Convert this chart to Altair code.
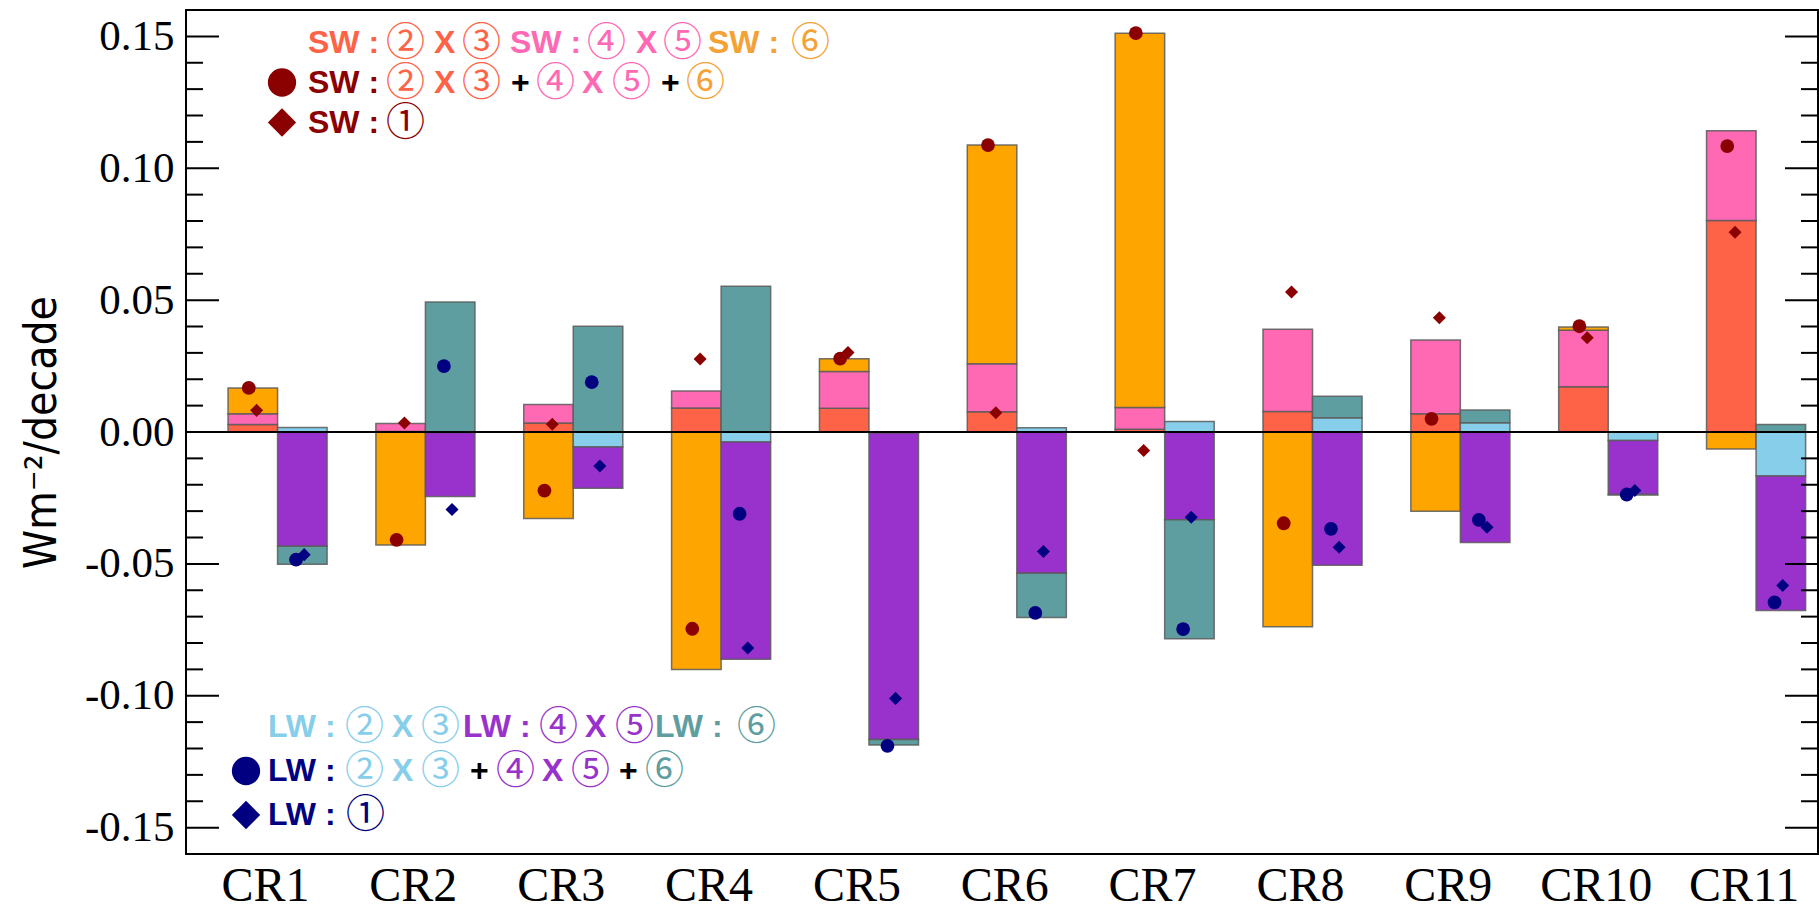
import altair as alt
import pandas as pd

# ---------------- data ----------------
regions = ["CR1", "CR2", "CR3", "CR4", "CR5", "CR6", "CR7", "CR8", "CR9", "CR10", "CR11"]

# SW components: (2)x(3), (4)x(5), (6)
sw_c23 = [0.0028, 0.0002, 0.0034, 0.0091, 0.0090, 0.0077, 0.0010, 0.0078, 0.0069, 0.0172, 0.0802]
sw_c45 = [0.0041, 0.0030, 0.0070, 0.0064, 0.0139, 0.0182, 0.0083, 0.0312, 0.0280, 0.0214, 0.0340]
sw_c6 = [0.0098, -0.0428, -0.0328, -0.0900, 0.0049, 0.0829, 0.1419, -0.0738, -0.0300, 0.0012, -0.0064]
sw_sum = [0.0167, -0.0409, -0.0222, -0.0746, 0.0278, 0.1088, 0.1512, -0.0346, 0.0050, 0.0401, 0.1084]
sw_one = [0.0082, 0.0034, 0.0029, 0.0277, 0.0301, 0.0073, -0.0070, 0.0531, 0.0433, 0.0357, 0.0757]

# LW components: (2)x(3), (4)x(5), (6)
lw_c23 = [0.0017, -0.0002, -0.0057, -0.0038, -0.0004, 0.0016, 0.0040, 0.0054, 0.0035, -0.0032, -0.0167]
lw_c45 = [-0.0433, -0.0243, -0.0156, -0.0824, -0.1162, -0.0536, -0.0333, -0.0505, -0.0419, -0.0205, -0.0510]
lw_c6 = [-0.0068, 0.0493, 0.0401, 0.0553, -0.0021, -0.0167, -0.0451, 0.0082, 0.0048, -0.0002, 0.0028]
lw_sum = [-0.0484, 0.0250, 0.0189, -0.0310, -0.1190, -0.0686, -0.0747, -0.0367, -0.0333, -0.0237, -0.0646]
lw_one = [-0.0465, -0.0294, -0.0129, -0.0819, -0.1010, -0.0453, -0.0323, -0.0437, -0.0361, -0.0222, -0.0582]

y_major = [-0.15, -0.10, -0.05, 0.0, 0.05, 0.10, 0.15]

# ---------------- colours ----------------
C_SW23, C_SW45, C_SW6 = "#FF6347", "#FF69B4", "#FFA500"
C_LW23, C_LW45, C_LW6 = "#87CEEB", "#9932CC", "#5F9EA0"
C_SWM, C_LWM = "#8B0000", "#000080"
C_SW6_TXT = "#F4A236"

# ---------------- layout ----------------
W, H = 1632, 844
YMIN, YMAX = -0.16, 0.16
STEP = 147.85
XMIN = 1 - 79 / STEP
XMAX = XMIN + W / STEP

def px_x(px):
    return XMIN + px / STEP

def px_y(py):
    return YMAX - py * (YMAX - YMIN) / H

# ---------------- stacked bars ----------------
rows = []
for side, comps, x0off, x1off in (
    ("SW", [("SW23", sw_c23), ("SW45", sw_c45), ("SW6", sw_c6)], -0.25, 0.085),
    ("LW", [("LW23", lw_c23), ("LW45", lw_c45), ("LW6", lw_c6)], 0.085, 0.42),
):
    for i, reg in enumerate(regions):
        pos, neg = 0.0, 0.0
        for name, vals in comps:
            v = vals[i]
            if v >= 0:
                y0, y1 = pos, pos + v
                pos += v
            else:
                y0, y1 = neg, neg + v
                neg += v
            rows.append(dict(region=reg, comp=name, x0=i + 1 + x0off, x1=i + 1 + x1off, y0=y0, y1=y1))
bars = pd.DataFrame(rows)

marks = []
for i, reg in enumerate(regions):
    marks.append(dict(x=i + 1 - 0.11, y=sw_sum[i], shape="circle", col=C_SWM, size=190))
    marks.append(dict(x=i + 1 - 0.057, y=sw_one[i], shape="diamond", col=C_SWM, size=170))
    marks.append(dict(x=i + 1 + 0.21, y=lw_sum[i], shape="circle", col=C_LWM, size=190))
    marks.append(dict(x=i + 1 + 0.265, y=lw_one[i], shape="diamond", col=C_LWM, size=170))
marks = pd.DataFrame(marks)

X_AX = alt.Axis(values=list(range(1, 12)), labelExpr="'CR' + datum.value", ticks=False, domain=False,
                grid=False, labelFont="Liberation Serif", labelFontSize=48, labelColor="black",
                labelPadding=8, title=None, labelOverlap=False)
Y_AX = alt.Axis(values=y_major, labelExpr="(datum.value < 0 ? '-' : '') + format(abs(datum.value), '.2f')",
                ticks=False, domain=False, grid=False, labelFont="Liberation Serif", labelFontSize=43,
                labelColor="black", labelPadding=12, title="Wm⁻²/decade", labelOverlap=False,
                titleFont="DejaVu Sans Condensed, Liberation Sans Narrow, Roboto Condensed, Liberation Sans",
                titleFontSize=44, titleFontWeight="normal", titleColor="black", titlePadding=20)
XS = alt.Scale(domain=[XMIN, XMAX], nice=False, zero=False)
YS = alt.Scale(domain=[YMIN, YMAX], nice=False, zero=False)

def X(f):
    return alt.X(f, scale=XS, axis=X_AX)

def Y(f):
    return alt.Y(f, scale=YS, axis=Y_AX)

comp_dom = ["SW23", "SW45", "SW6", "LW23", "LW45", "LW6"]
comp_rng = [C_SW23, C_SW45, C_SW6, C_LW23, C_LW45, C_LW6]

bar_layer = alt.Chart(bars).mark_rect(stroke="#5a5a5a", strokeWidth=1.5, strokeOpacity=0.85).encode(
    x=X("x0:Q"), x2="x1:Q", y=Y("y0:Q"), y2="y1:Q",
    color=alt.Color("comp:N", scale=alt.Scale(domain=comp_dom, range=comp_rng), legend=None),
)

zero_layer = alt.Chart(pd.DataFrame({"z": [0.0]})).mark_rule(color="black", strokeWidth=2).encode(
    y=Y("z:Q")
)

marker_layer = alt.Chart(marks).mark_point(filled=True, opacity=1, strokeWidth=0).encode(
    x=X("x:Q"), y=Y("y:Q"),
    shape=alt.Shape("shape:N", scale=None),
    color=alt.Color("col:N", scale=None),
    size=alt.Size("size:Q", scale=None),
)

# ---------------- inside ticks (left and right) ----------------
minor = [round(k * 0.01, 2) for k in range(-15, 16) if k % 5 != 0]
tick_layers = []
for vals, ln in ((y_major, 33), (minor, 17)):
    td = pd.DataFrame({"t": vals})
    tick_layers.append(alt.Chart(td).mark_rule(color="black", strokeWidth=2).encode(
        y=Y("t:Q"), x=alt.value(0), x2=alt.value(ln)))
    tick_layers.append(alt.Chart(td).mark_rule(color="black", strokeWidth=2).encode(
        y=Y("t:Q"), x=alt.value(W - ln), x2=alt.value(W)))

# ---------------- legend text ----------------
SW_ROWS = [32.5, 72.5, 112.5]
LW_ROWS = [716.7, 761.0, 805.0]
words = [
    ("SW :", 122, SW_ROWS[0], C_SW23), ("X", 248, SW_ROWS[0], C_SW23),
    ("SW :", 324, SW_ROWS[0], C_SW45), ("X", 450, SW_ROWS[0], C_SW45),
    ("SW :", 522, SW_ROWS[0], C_SW6_TXT),
    ("SW :", 122, SW_ROWS[1], C_SWM), ("X", 248, SW_ROWS[1], C_SW23), ("+", 325, SW_ROWS[1], "black"),
    ("X", 396, SW_ROWS[1], C_SW45), ("+", 475, SW_ROWS[1], "black"),
    ("SW :", 122, SW_ROWS[2], C_SWM),
    ("LW :", 82, LW_ROWS[0], C_LW23), ("X", 206, LW_ROWS[0], C_LW23),
    ("LW :", 277, LW_ROWS[0], C_LW45), ("X", 399, LW_ROWS[0], C_LW45),
    ("LW :", 469, LW_ROWS[0], C_LW6),
    ("LW :", 82, LW_ROWS[1], C_LWM), ("X", 206, LW_ROWS[1], C_LW23), ("+", 284, LW_ROWS[1], "black"),
    ("X", 356, LW_ROWS[1], C_LW45), ("+", 433, LW_ROWS[1], "black"),
    ("LW :", 82, LW_ROWS[2], C_LWM),
]
digits = [
    ("②", 201, SW_ROWS[0], C_SW23), ("③", 277, SW_ROWS[0], C_SW23),
    ("④", 402, SW_ROWS[0], C_SW45), ("⑤", 478, SW_ROWS[0], C_SW45), ("⑥", 606, SW_ROWS[0], C_SW6_TXT),
    ("②", 201, SW_ROWS[1], C_SW23), ("③", 277, SW_ROWS[1], C_SW23),
    ("④", 351, SW_ROWS[1], C_SW45), ("⑤", 427, SW_ROWS[1], C_SW45), ("⑥", 501, SW_ROWS[1], C_SW6_TXT),
    ("①", 201, SW_ROWS[2], C_SWM),
    ("②", 160, LW_ROWS[0], C_LW23), ("③", 236, LW_ROWS[0], C_LW23),
    ("④", 354, LW_ROWS[0], C_LW45), ("⑤", 430, LW_ROWS[0], C_LW45), ("⑥", 552, LW_ROWS[0], C_LW6),
    ("②", 160, LW_ROWS[1], C_LW23), ("③", 236, LW_ROWS[1], C_LW23),
    ("④", 311, LW_ROWS[1], C_LW45), ("⑤", 386, LW_ROWS[1], C_LW45), ("⑥", 460, LW_ROWS[1], C_LW6),
    ("①", 161, LW_ROWS[2], C_LWM),
]
leg_marks = [
    ("circle", 96, SW_ROWS[1], C_SWM), ("diamond", 96, SW_ROWS[2], C_SWM),
    ("circle", 60, LW_ROWS[1], C_LWM), ("diamond", 60, LW_ROWS[2], C_LWM),
]

def to_df(items):
    return pd.DataFrame([dict(label=t, x=px_x(px), y=px_y(py), col=c) for t, px, py, c in items])

words_layer = alt.Chart(to_df(words)).mark_text(
    align="left", baseline="middle", font="Liberation Sans", fontWeight="bold",
    fontSize=32).encode(
    x=X("x:Q"), y=Y("y:Q"),
    text="label:N", color=alt.Color("col:N", scale=None))

digits_layer = alt.Chart(to_df(digits)).mark_text(
    align="left", baseline="middle", font="Noto Sans CJK JP", fontSize=39, dx=-1).encode(
    x=X("x:Q"), y=Y("y:Q"),
    text="label:N", color=alt.Color("col:N", scale=None))

lm = pd.DataFrame([dict(shape=s, x=px_x(px), y=px_y(py), col=c) for s, px, py, c in leg_marks])
legmark_layer = alt.Chart(lm).mark_point(filled=True, opacity=1, size=800, strokeWidth=0).encode(
    x=X("x:Q"), y=Y("y:Q"),
    shape=alt.Shape("shape:N", scale=None), color=alt.Color("col:N", scale=None))

chart = alt.layer(
    bar_layer, zero_layer, marker_layer, *tick_layers, words_layer, digits_layer, legmark_layer
).properties(
    width=W, height=H,
    autosize=alt.AutoSizeParams(type="none"),
    padding={"left": 186, "top": 10, "right": 1, "bottom": 62},
    background="white",
).configure_view(stroke="black", strokeWidth=2)

chart.save("out.html", embed_options={"renderer": "svg", "actions": False})
